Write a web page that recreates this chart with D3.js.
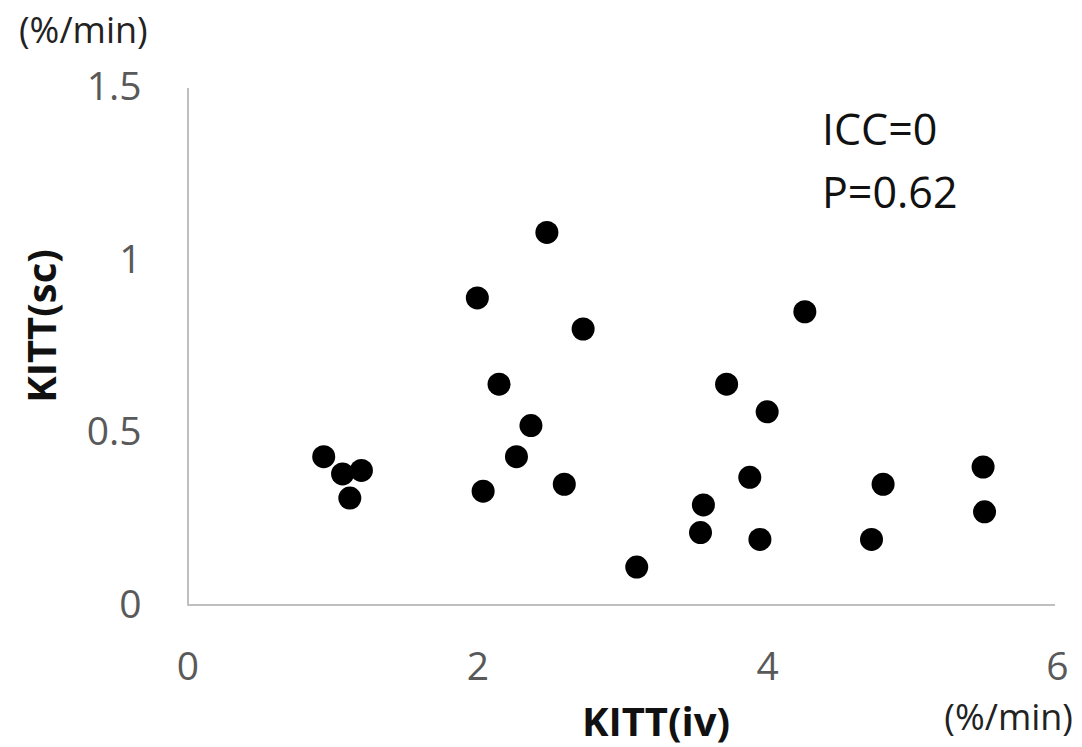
<!DOCTYPE html>
<html>
<head>
<meta charset="utf-8">
<script src="https://cdn.jsdelivr.net/npm/d3@7"></script>
<style>
  html, body { margin: 0; padding: 0; background: #fff; }
  svg { display: block; font-family: "Open Sans", sans-serif; }
</style>
</head>
<body>
<svg id="chart" width="1082" height="747"></svg>
<script>
// Data
const kittIV = [0.94, 1.07, 1.20, 1.12, 2.04, 2.27, 2.37, 2.60, 2.48, 2.00, 2.73, 2.15,
                4.26, 3.72, 4.00, 5.49, 3.88, 4.80, 3.56, 5.50, 3.54, 3.95, 4.72, 3.10];
const kittSC = [0.43, 0.38, 0.39, 0.31, 0.33, 0.43, 0.52, 0.35, 1.08, 0.89, 0.80, 0.64,
                0.85, 0.64, 0.56, 0.40, 0.37, 0.35, 0.29, 0.27, 0.21, 0.19, 0.19, 0.11];
const xTicks = [0, 2, 4, 6];
const yTicks = [0, 0.5, 1, 1.5];
const xTitle = "KITT(iv)";
const yTitle = "KITT(sc)";
const unitLabel = "(%/min)";
const annotations = ["ICC=0", "P=0.62"];

const svg = d3.select("#chart");
const x = d3.scaleLinear().domain([0, 6]).range([187.5, 1057]);
const y = d3.scaleLinear().domain([0, 1.5]).range([605, 87.5]);

const axisColor = "#bfbfbf";
const tickColor = "#595959";

// X axis
const gx = svg.append("g")
  .attr("transform", `translate(0,${y(0)})`)
  .call(d3.axisBottom(x).tickValues(xTicks).tickSize(0).tickPadding(47).tickFormat(d3.format("d")));
gx.select(".domain").attr("stroke", axisColor).attr("stroke-width", 2).attr("d", `M${x(0)},0H1055`);
gx.selectAll("text").attr("fill", tickColor).attr("font-size", 39).attr("font-family", "Open Sans, sans-serif");

// Y axis
const gy = svg.append("g")
  .attr("transform", `translate(${x(0)},0)`)
  .call(d3.axisLeft(y).tickValues(yTicks).tickSize(0).tickPadding(46).tickFormat(d => d));
gy.select(".domain").attr("stroke", axisColor).attr("stroke-width", 2);
gy.selectAll("text").attr("fill", tickColor).attr("font-size", 39).attr("font-family", "Open Sans, sans-serif");

// Points
svg.append("g").selectAll("circle")
  .data(kittIV.map((v, i) => [v, kittSC[i]]))
  .join("circle")
  .attr("cx", d => x(d[0]))
  .attr("cy", d => y(d[1]))
  .attr("r", 11.5)
  .attr("fill", "#000");

// Axis titles
svg.append("text")
  .attr("x", 656).attr("y", 736)
  .attr("text-anchor", "middle")
  .attr("font-size", 40).attr("font-weight", "bold").attr("fill", "#111")
  .text(xTitle);

svg.append("text")
  .attr("transform", "translate(56,326) rotate(-90)")
  .attr("text-anchor", "middle")
  .attr("font-size", 40).attr("font-weight", "bold").attr("fill", "#111")
  .text(yTitle);

// Unit labels
svg.append("text")
  .attr("x", 19).attr("y", 43)
  .attr("font-size", 36).attr("fill", "#222")
  .text(unitLabel);

svg.append("text")
  .attr("x", 1073).attr("y", 730)
  .attr("text-anchor", "end")
  .attr("font-size", 36).attr("fill", "#222")
  .text(unitLabel);

// Annotation
svg.append("g").selectAll("text")
  .data(annotations)
  .join("text")
  .attr("x", 822)
  .attr("y", (d, i) => 145 + i * 63)
  .attr("font-size", 43).attr("fill", "#111")
  .text(d => d);
</script>
</body>
</html>
